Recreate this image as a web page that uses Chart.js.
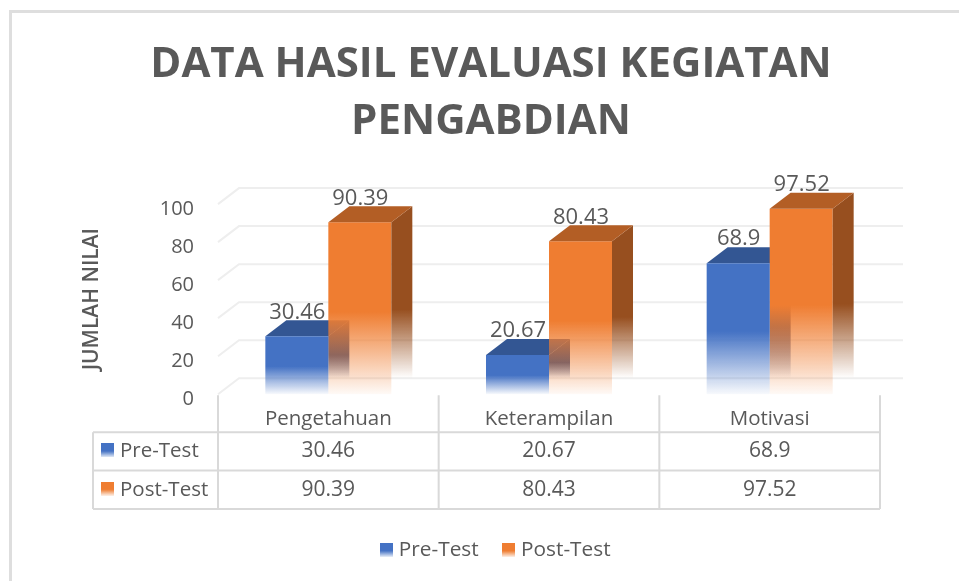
<!DOCTYPE html>
<html lang="en">
<head>
    <meta charset="utf-8">
    <title>Data Hasil Evaluasi Kegiatan Pengabdian</title>
    <script src="https://cdn.jsdelivr.net/npm/chart.js"></script>
    <style>
        body, html { margin: 0; padding: 0; background: white; overflow: hidden; }
        #frame {
            position: absolute;
            left: 9px;
            top: 10px;
            width: 950px;
            height: 571px;
            border-top: 3px solid #dedede;
            border-left: 3px solid #dedede;
        }
        #chart { position: absolute; left: 0; top: 0; }
    </style>
</head>
<body>
    <div id="frame"></div>
    <canvas id="chart" width="959" height="581"></canvas>
    <script>
        // Chart data
        const categories = ['Pengetahuan', 'Keterampilan', 'Motivasi'];
        const preTest = [30.46, 20.67, 68.9];
        const postTest = [90.39, 80.43, 97.52];
        const titleLines = ['DATA HASIL EVALUASI KEGIATAN', 'PENGABDIAN'];

        const BLUE = [68, 114, 196];
        const ORANGE = [239, 125, 49];
        const TEXT = '#595959';
        const FONT = '"Open Sans", sans-serif';
        const DEPTH_X = 21;
        const DEPTH_Y = 16;

        function rgba(c, a) {
            return `rgba(${c[0]},${c[1]},${c[2]},${a})`;
        }

        function darker(c, k) {
            return [c[0] * k, c[1] * k, c[2] * k];
        }

        // Front face: solid on top, fading out towards the floor
        function frontFill(color) {
            return function (context) {
                const chart = context.chart;
                if (!chart.chartArea || context.raw === undefined) return rgba(color, 1);
                const y = chart.scales.y;
                const g = chart.ctx.createLinearGradient(0, y.getPixelForValue(context.raw), 0, y.getPixelForValue(0));
                g.addColorStop(0, rgba(color, 1));
                g.addColorStop(0.52, rgba(color, 1));
                g.addColorStop(1, rgba(color, 0.04));
                return g;
            };
        }

        // Small gradient square, used for the legend and the table keys
        function swatch(color) {
            const c = document.createElement('canvas');
            c.width = 13;
            c.height = 14;
            const x = c.getContext('2d');
            const g = x.createLinearGradient(0, 0, 0, 14);
            g.addColorStop(0, rgba(color, 1));
            g.addColorStop(0.55, rgba(color, 1));
            g.addColorStop(1, rgba(color, 0.1));
            x.fillStyle = g;
            x.fillRect(0, 0, 13, 14);
            return c;
        }
        const blueSwatch = swatch(BLUE);
        const orangeSwatch = swatch(ORANGE);

        function poly(ctx, pts, fill) {
            ctx.beginPath();
            pts.forEach((p, i) => i ? ctx.lineTo(p[0], p[1]) : ctx.moveTo(p[0], p[1]));
            ctx.closePath();
            ctx.fillStyle = fill;
            ctx.fill();
        }

        // Side and top faces. Chart.js paints Post-Test first, so the Pre-Test faces
        // go underneath it with destination-over and show through its faded part.
        const barFaces = {
            id: 'barFaces',
            afterLayout(chart) {
                chart.legend.left += 6.5;
                chart.legend.right += 6.5;
            },
            afterDatasetDraw(chart, args) {
                const ctx = chart.ctx;
                const isPre = args.index === 0;
                const color = isPre ? BLUE : ORANGE;
                const side = darker(color, isPre ? 0.7 : 0.63);
                const top = darker(color, 0.75);
                ctx.save();
                if (isPre) ctx.globalCompositeOperation = 'destination-over';
                args.meta.data.forEach(bar => {
                    const l = bar.x - bar.width / 2, r = bar.x + bar.width / 2;
                    const g = ctx.createLinearGradient(0, bar.y - DEPTH_Y, 0, bar.base - DEPTH_Y);
                    g.addColorStop(0, rgba(side, 1));
                    g.addColorStop(0.6, rgba(side, 1));
                    g.addColorStop(1, rgba(side, 0));
                    poly(ctx, [[r, bar.y], [r + DEPTH_X, bar.y - DEPTH_Y], [r + DEPTH_X, bar.base - DEPTH_Y], [r, bar.base]], g);
                    poly(ctx, [[l, bar.y], [l + DEPTH_X, bar.y - DEPTH_Y], [r + DEPTH_X, bar.y - DEPTH_Y], [r, bar.y]], rgba(top, 1));
                });
                ctx.restore();
            }
        };

        // Floor and back wall lines, value labels and the data table
        const gridAndTable = {
            id: 'gridAndTable',
            afterDatasetsDraw(chart) {
                const ctx = chart.ctx, a = chart.chartArea, x = chart.scales.x, y = chart.scales.y;
                ctx.save();
                ctx.globalCompositeOperation = 'destination-over';
                ctx.strokeStyle = '#eeeeee';
                ctx.lineWidth = 2;
                y.ticks.forEach(t => {
                    const py = y.getPixelForValue(t.value);
                    ctx.beginPath();
                    ctx.moveTo(a.left, py);
                    ctx.lineTo(a.left + DEPTH_X, py - DEPTH_Y);
                    ctx.lineTo(a.right + 23, py - DEPTH_Y);
                    ctx.stroke();
                });
                ctx.restore();

                ctx.save();
                ctx.fillStyle = TEXT;
                ctx.textAlign = 'center';
                ctx.textBaseline = 'middle';
                ctx.font = `22px ${FONT}`;
                chart.data.datasets.forEach((ds, d) => {
                    chart.getDatasetMeta(d).data.forEach((bar, i) => {
                        ctx.fillText(String(ds.data[i]), bar.x + 0.5, bar.y - DEPTH_Y - 8);
                    });
                });

                const step = x.getPixelForTick(1) - x.getPixelForTick(0);
                const rowTop = a.bottom + 38;
                const rowH = 38.4;
                const tableLeft = 93;
                ctx.strokeStyle = '#d9d9d9';
                ctx.lineWidth = 2;
                ctx.beginPath();
                [0, 1, 2].forEach(r => {
                    ctx.moveTo(tableLeft, rowTop + r * rowH);
                    ctx.lineTo(a.right, rowTop + r * rowH);
                });
                ctx.moveTo(tableLeft, rowTop);
                ctx.lineTo(tableLeft, rowTop + 2 * rowH);
                for (let i = 0; i <= categories.length; i++) {
                    const px = a.left + i * step;
                    ctx.moveTo(px, a.bottom + 1);
                    ctx.lineTo(px, rowTop + 2 * rowH);
                }
                ctx.stroke();

                chart.data.datasets.forEach((ds, d) => {
                    const cy = rowTop + rowH * d + rowH / 2;
                    ctx.textAlign = 'center';
                    ctx.font = `21px ${FONT}`;
                    ds.data.forEach((v, i) => {
                        ctx.fillText(String(v), x.getPixelForTick(i), cy);
                    });
                    ctx.textAlign = 'left';
                    ctx.font = `20.5px ${FONT}`;
                    ctx.drawImage(ds.pointStyle, 101, cy - 8);
                    ctx.fillText(ds.label, 120, cy);
                });
                ctx.restore();
            }
        };

        const ctx = document.getElementById('chart').getContext('2d');
        const chart = new Chart(ctx, {
            type: 'bar',
            data: {
                labels: categories,
                datasets: [
                    { label: 'Pre-Test', data: preTest, backgroundColor: frontFill(BLUE), pointStyle: blueSwatch },
                    { label: 'Post-Test', data: postTest, backgroundColor: frontFill(ORANGE), pointStyle: orangeSwatch }
                ]
            },
            plugins: [barFaces, gridAndTable],
            options: {
                responsive: false,
                animation: false,
                events: [],
                categoryPercentage: 0.571,
                barPercentage: 1,
                layout: { padding: { left: 23, right: 0, top: 0, bottom: 10.5 } },
                plugins: {
                    tooltip: { enabled: false },
                    title: {
                        display: true,
                        text: titleLines,
                        color: TEXT,
                        font: { family: FONT, size: 42, weight: 'bold', lineHeight: 1.37 },
                        padding: { top: 36, bottom: 53 }
                    },
                    legend: {
                        position: 'bottom',
                        labels: {
                            usePointStyle: true,
                            pointStyleWidth: 4,
                            color: TEXT,
                            padding: 28,
                            font: { family: FONT, size: 20.8 },
                            generateLabels: c => c.data.datasets.map((ds, i) => ({
                                text: ds.label,
                                fontColor: TEXT,
                                pointStyle: ds.pointStyle,
                                lineWidth: 0,
                                datasetIndex: i
                            }))
                        }
                    }
                },
                scales: {
                    x: {
                        grid: { display: false },
                        border: { display: false },
                        ticks: { color: TEXT, padding: 5, font: { family: FONT, size: 20.5 } },
                        afterFit: s => { s.height = 117.5; }
                    },
                    y: {
                        min: 0,
                        max: 100,
                        grid: { display: false },
                        border: { display: false },
                        ticks: { stepSize: 20, color: TEXT, padding: 16, labelOffset: 5, font: { family: FONT, size: 20 } },
                        title: {
                            display: true,
                            text: 'JUMLAH NILAI',
                            color: TEXT,
                            font: { family: FONT, size: 21, weight: '600' },
                            padding: { top: 56, bottom: 0 }
                        },
                        afterFit: s => { s.width = 195; }
                    },
                    // Empty axis that only keeps the right margin, so the title stays centred like the original
                    spacer: {
                        type: 'linear',
                        position: 'right',
                        grid: { display: false },
                        border: { display: false },
                        ticks: { display: false },
                        afterFit: s => { s.width = 79; }
                    }
                }
            }
        });
    </script>
</body>
</html>
